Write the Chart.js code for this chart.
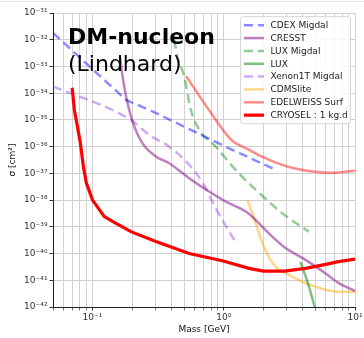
<!DOCTYPE html>
<html>
<head>
<meta charset="utf-8">
<script src="https://cdn.jsdelivr.net/npm/chart.js@4.4.1/dist/chart.umd.min.js"></script>
<style>
  html, body { margin: 0; padding: 0; background: #fff; }
  #wrap { width: 364px; height: 338px; position: relative; }
  #wrap::before { content: ''; position: absolute; left: 0; right: 0; top: 1px; height: 1px; background: #e8e8e8; }
</style>
</head>
<body>
<div id="wrap"><canvas id="limits" width="364" height="338"></canvas></div>
<script>
// exclusion limits, mass in GeV, cross section in cm^2
const cdexMass = [0.05, 0.18, 0.286, 0.475, 1.0, 2.45];
const cdexSigma = [1.8e-32, 5.6e-35, 2.1e-35, 6.3e-36, 1.07e-36, 1.4e-37];

const cresstMass = [0.162, 0.17, 0.18, 0.202, 0.24, 0.304, 0.384, 0.545, 0.773, 1.04, 1.5, 2.34, 2.96, 4.2, 5.97, 7.53, 10];
const cresstSigma = [2.3e-33, 3.8e-34, 7.6e-35, 8.7e-36, 1.35e-36, 4.3e-37, 2.4e-37, 6.6e-38, 2.1e-38, 8.7e-39, 3.5e-39, 4.3e-40, 1.6e-40, 5.8e-41, 1.8e-41, 7.8e-42, 4.0e-42];

const luxMigdalMass = [0.42, 0.444, 0.499, 0.561, 0.649, 0.869, 1.23, 1.65, 2.21, 2.79, 4.45];
const luxMigdalSigma = [1.0e-32, 2.3e-33, 4.3e-34, 2.4e-35, 4.3e-36, 1.0e-36, 1.35e-37, 3.2e-38, 8.7e-39, 3.2e-39, 6.6e-40];

const luxMass = [3.84, 4.35, 5.0];
const luxSigma = [4.9e-41, 8.5e-42, 8e-43];

const xenonMass = [0.05, 0.196, 0.27, 0.384, 0.545, 0.712, 0.849, 0.976, 1.24];
const xenonSigma = [1.8e-34, 1.0e-35, 2.75e-36, 1.0e-36, 2.1e-37, 3.5e-38, 6.2e-39, 1.8e-39, 2.5e-40];

const cdmsMass = [1.52, 1.75, 2.02, 2.48, 3.14, 4.2, 5.97, 7.53, 10];
const cdmsSigma = [1.0e-38, 1.35e-39, 1.8e-40, 3.2e-41, 1.6e-41, 7.8e-42, 4.4e-42, 3.7e-42, 3.7e-42];

const edwMass = [0.517, 0.80, 1.14, 1.56, 1.96, 2.41, 3.14, 4.45, 6.66, 10];
const edwSigma = [4.3e-34, 1.8e-35, 1.8e-36, 7.6e-37, 4.2e-37, 2.7e-37, 1.74e-37, 1.23e-37, 1.05e-37, 1.25e-37];

const cryoselMass = [0.07, 0.0727, 0.0766, 0.0807, 0.0851, 0.0897, 0.1, 0.123, 0.151, 0.196, 0.304, 0.545, 0.975, 1.56, 2.0, 2.9, 4.2, 5.6, 7.5, 10];
const cryoselSigma = [1.6e-34, 2.4e-35, 6.0e-36, 1.4e-36, 1.9e-37, 4.4e-38, 1.0e-38, 2.4e-39, 1.35e-39, 6.6e-40, 2.8e-40, 1.0e-40, 5.4e-41, 2.8e-41, 2.2e-41, 2.2e-41, 2.8e-41, 3.7e-41, 5.0e-41, 6.2e-41];

// axes
const xGrid = [0.05, 0.06, 0.07, 0.08, 0.09, 0.1, 0.2, 0.3, 0.4, 0.5, 0.6, 0.7, 0.8, 0.9,
               1, 2, 3, 4, 5, 6, 7, 8, 9, 10];
const xTickValues = [0.1, 1, 10];
const xTickLabels = ['10⁻¹', '10⁰', '10¹'];
const yTickValues = [1e-42, 1e-41, 1e-40, 1e-39, 1e-38, 1e-37, 1e-36, 1e-35, 1e-34, 1e-33, 1e-32, 1e-31];
const yTickLabels = ['10⁻⁴²', '10⁻⁴¹', '10⁻⁴⁰', '10⁻³⁹', '10⁻³⁸', '10⁻³⁷', '10⁻³⁶',
                     '10⁻³⁵', '10⁻³⁴', '10⁻³³', '10⁻³²', '10⁻³¹'];
const titleLines = ['DM-nucleon', '(Lindhard)'];

const FONT = '"DejaVu Sans", sans-serif';

function pts(xs, ys) {
  return xs.map((x, i) => ({ x: x, y: ys[i] }));
}

function labelFor(values, labels, v) {
  const i = values.findIndex(t => Math.abs(Math.log10(t) - Math.log10(v)) < 1e-6);
  return i < 0 ? '' : labels[i];
}

function line(label, xs, ys, color, width, dash, smooth) {
  return {
    label: label,
    data: pts(xs, ys),
    showLine: true,
    borderColor: color,
    borderWidth: width,
    borderDash: dash || [],
    pointRadius: 0,
    pointHoverRadius: 0,
    fill: false,
    tension: 0,
    cubicInterpolationMode: smooth ? 'monotone' : 'default'
  };
}

const datasets = [
  line('CDEX Migdal', cdexMass, cdexSigma, 'rgba(0,0,255,0.45)', 2.5, [9, 5], false),
  line('CRESST', cresstMass, cresstSigma, 'rgba(128,0,128,0.5)', 2.5, null, true),
  line('LUX Migdal', luxMigdalMass, luxMigdalSigma, 'rgba(0,128,0,0.42)', 2.5, [9, 5], true),
  line('LUX', luxMass, luxSigma, 'rgba(0,128,0,0.5)', 2.5, null, true),
  line('Xenon1T Migdal', xenonMass, xenonSigma, 'rgba(138,43,226,0.4)', 2.5, [9, 5], true),
  line('CDMSlite', cdmsMass, cdmsSigma, 'rgba(255,165,0,0.45)', 2.5, null, true),
  line('EDELWEISS Surf', edwMass, edwSigma, 'rgba(255,0,0,0.45)', 2.5, null, true),
  line('CRYOSEL : 1 kg.d', cryoselMass, cryoselSigma, '#ff0000', 3.2, null, false)
];
datasets[7].order = -1;

// big label in the upper left of the plot
const insetTitle = {
  id: 'insetTitle',
  afterDatasetsDraw(chart) {
    const ctx = chart.ctx;
    ctx.save();
    ctx.fillStyle = '#000';
    ctx.textAlign = 'left';
    ctx.textBaseline = 'alphabetic';
    ctx.font = 'bold 22px ' + FONT;
    ctx.fillText(titleLines[0], 68, 44);
    ctx.font = '22px ' + FONT;
    ctx.fillText(titleLines[1], 68, 71);
    ctx.restore();
  }
};

// legend box inside the upper right corner
const insetLegend = {
  id: 'insetLegend',
  afterDatasetsDraw(chart) {
    const { ctx, chartArea } = chart;
    const sets = chart.data.datasets;
    const w = 110, h = 107, r = 3;
    const x0 = chartArea.right - w - 4.5, y0 = chartArea.top + 3.7;
    ctx.save();
    ctx.beginPath();
    ctx.moveTo(x0 + r, y0);
    ctx.arcTo(x0 + w, y0, x0 + w, y0 + h, r);
    ctx.arcTo(x0 + w, y0 + h, x0, y0 + h, r);
    ctx.arcTo(x0, y0 + h, x0, y0, r);
    ctx.arcTo(x0, y0, x0 + w, y0, r);
    ctx.closePath();
    ctx.fillStyle = 'rgba(255,255,255,0.85)';
    ctx.fill();
    ctx.strokeStyle = '#d6d6d6';
    ctx.lineWidth = 1;
    ctx.stroke();

    ctx.font = '9px ' + FONT;
    ctx.textBaseline = 'middle';
    ctx.textAlign = 'left';
    sets.forEach((ds, i) => {
      const y = y0 + 8.5 + i * 12.85;
      ctx.beginPath();
      ctx.setLineDash(ds.borderDash || []);
      ctx.strokeStyle = ds.borderColor;
      ctx.lineWidth = ds.borderWidth;
      ctx.moveTo(x0 + 3.5, y);
      ctx.lineTo(x0 + 23.5, y);
      ctx.stroke();
      ctx.setLineDash([]);
      ctx.fillStyle = '#222';
      ctx.fillText(ds.label, x0 + 30, y + 0.5);
    });
    ctx.restore();
  }
};

new Chart(document.getElementById('limits'), {
  type: 'scatter',
  data: { datasets: datasets },
  plugins: [insetTitle, insetLegend],
  options: {
    responsive: false,
    animation: false,
    devicePixelRatio: 1,
    layout: { padding: { top: 13, right: 9, left: 0, bottom: 0 } },
    plugins: {
      legend: { display: false },
      tooltip: { enabled: false }
    },
    scales: {
      x: {
        type: 'logarithmic',
        min: 0.05,
        max: 10,
        afterBuildTicks(scale) {
          scale.ticks = xGrid.map(v => ({ value: v }));
        },
        afterFit(scale) {
          scale.height = 31;
          scale.paddingLeft = 0;
          scale.paddingRight = 0;
        },
        ticks: {
          autoSkip: false,
          maxRotation: 0,
          padding: 2,
          color: '#333',
          font: { family: FONT, size: 9 },
          callback: v => labelFor(xTickValues, xTickLabels, v)
        },
        grid: {
          color: '#d2d2d2',
          lineWidth: 1,
          tickLength: 3.5,
          tickColor: ctx => labelFor(xTickValues, xTickLabels, ctx.tick.value) ? '#333' : '#777'
        },
        border: { color: '#222', width: 1 },
        title: {
          display: true,
          text: 'Mass [GeV]',
          color: '#111',
          font: { family: FONT, size: 9 },
          padding: { top: 0, bottom: 3 }
        }
      },
      y: {
        type: 'logarithmic',
        min: 1e-42,
        max: 1e-31,
        afterBuildTicks(scale) {
          scale.ticks = yTickValues.map(v => ({ value: v }));
        },
        afterFit(scale) {
          scale.width = 53;
          scale.paddingTop = 0;
          scale.paddingBottom = 0;
        },
        ticks: {
          autoSkip: false,
          padding: 2,
          color: '#333',
          font: { family: FONT, size: 9 },
          callback: v => labelFor(yTickValues, yTickLabels, v)
        },
        grid: {
          color: '#cfcfcf',
          lineWidth: 1,
          tickLength: 3.5,
          tickColor: '#333'
        },
        border: { color: '#222', width: 1 },
        title: {
          display: true,
          text: 'σ [cm²]',
          color: '#111',
          font: { family: FONT, size: 9 },
          padding: { top: 7, bottom: 0 }
        }
      }
    }
  }
});
</script>
</body>
</html>
